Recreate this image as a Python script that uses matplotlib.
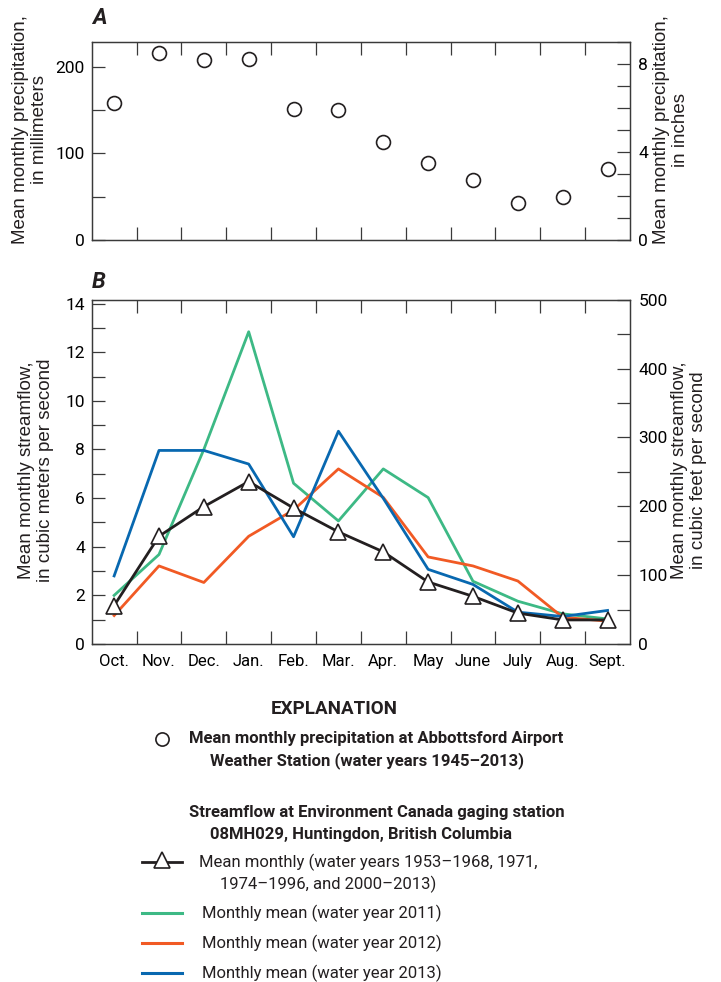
import numpy as np
import matplotlib
matplotlib.use("Agg")
import matplotlib.pyplot as plt
from matplotlib.ticker import MultipleLocator, FixedLocator, NullFormatter

months = ["Oct.", "Nov.", "Dec.", "Jan.", "Feb.", "Mar.", "Apr.", "May", "June", "July", "Aug.", "Sept."]

# panel A - precipitation, mm
precip_mm = [157.5, 215, 208, 208.5, 150.5, 149.5, 112.5, 88.5, 69, 43, 50, 82]

# panel B - streamflow, m3/s
flow_mean = [1.58, 4.43, 5.65, 6.68, 5.59, 4.61, 3.79, 2.55, 1.96, 1.27, 0.99, 0.99]
flow_2011 = [2.0, 3.68, 8.0, 12.84, 6.61, 5.06, 7.2, 6.02, 2.58, 1.76, 1.24, 1.03]
flow_2012 = [1.17, 3.21, 2.53, 4.43, 5.51, 7.2, 6.03, 3.58, 3.21, 2.59, 1.10, 0.94]
flow_2013 = [2.80, 7.96, 7.96, 7.40, 4.41, 8.75, 5.99, 3.07, 2.45, 1.31, 1.13, 1.38]

GREEN = "#3DB985"
ORANGE = "#F15A24"
BLUE = "#0868B0"
BLACK = "#231F20"

COND = ["Roboto", "DejaVu Sans"]
REG = ["Liberation Sans", "DejaVu Sans"]

plt.rcParams["font.family"] = COND
plt.rcParams["text.color"] = BLACK
plt.rcParams["axes.edgecolor"] = "#3a3a3a"
plt.rcParams["axes.linewidth"] = 0.9

W, H = 721, 982
fig = plt.figure(figsize=(W / 100, H / 100), dpi=100)


def fx(px):
    return px / W


def fy(py):
    return 1 - py / H


x = np.arange(len(months)) + 0.5

left, right = 91.7, 630
axA = fig.add_axes([fx(left), fy(240), fx(right - left), (240 - 41.7) / H])
axB = fig.add_axes([fx(left), fy(644), fx(right - left), (644 - 299.7) / H])


def style_x(ax, labels):
    ax.set_xlim(0, 12)
    ax.xaxis.set_major_locator(FixedLocator(range(1, 12)))
    ax.xaxis.set_major_formatter(NullFormatter())
    ax.tick_params(axis="x", which="major", direction="in", length=9.5, width=0.9,
                   top=True, bottom=True, color="#3a3a3a")
    if labels:
        ax.xaxis.set_minor_locator(FixedLocator(x))
        ax.set_xticks(x, months, minor=True)
        ax.tick_params(axis="x", which="minor", length=0, pad=7, labelsize=12)
    else:
        ax.tick_params(axis="x", which="minor", length=0)


def style_y(ax, labelsize=12.5):
    ax.tick_params(axis="y", which="both", direction="in", length=9.5, width=0.9,
                   pad=5, labelsize=labelsize, color="#3a3a3a")


# ---- panel A
axA.scatter(x, precip_mm, s=100, facecolor="white", edgecolor=BLACK, linewidth=1.2, zorder=3)
axA.set_ylim(0, 9 * 25.4)
axA.yaxis.set_major_locator(MultipleLocator(100))
axA.yaxis.set_minor_locator(MultipleLocator(50))
style_x(axA, False)
style_y(axA)
axA2 = axA.twinx()
axA2.set_ylim(0, 9)
axA2.yaxis.set_major_locator(MultipleLocator(4))
axA2.yaxis.set_minor_locator(MultipleLocator(1))
style_y(axA2)

# ---- panel B
axB.plot(x, flow_2011, color=GREEN, lw=2.0, zorder=2)
axB.plot(x, flow_2012, color=ORANGE, lw=2.0, zorder=2)
axB.plot(x, flow_2013, color=BLUE, lw=2.0, zorder=2)
axB.plot(x, flow_mean, color=BLACK, lw=2.0, marker="^", ms=12, mfc="white",
         mec=BLACK, mew=1.2, zorder=3)
axB.set_ylim(0, 500 / 35.3147)
axB.yaxis.set_major_locator(MultipleLocator(2))
axB.yaxis.set_minor_locator(MultipleLocator(1))
style_x(axB, True)
style_y(axB)
axB2 = axB.twinx()
axB2.set_ylim(0, 500)
axB2.yaxis.set_major_locator(MultipleLocator(100))
axB2.yaxis.set_minor_locator(MultipleLocator(50))
style_y(axB2)

for ax in (axA2, axB2):
    ax.tick_params(axis="y", which="both", pad=6)

# panel letters
fig.text(fx(92), fy(18), "A", fontsize=16, fontweight="bold", fontstyle="italic", va="center", ha="left")
fig.text(fx(92), fy(282), "B", fontsize=16, fontweight="bold", fontstyle="italic", va="center", ha="left")

# axis titles
lab = dict(rotation=90, ha="center", va="center", fontsize=13.5, family=REG,
           multialignment="center", linespacing=1.2)
fig.text(fx(30), fy(130), "Mean monthly precipitation,\nin millimeters", **lab)
fig.text(fx(671), fy(130), "Mean monthly precipitation,\nin inches", **lab)
fig.text(fx(36), fy(470), "Mean monthly streamflow,\nin cubic meters per second", **lab)
fig.text(fx(689), fy(470), "Mean monthly streamflow,\nin cubic feet per second", **lab)

# ---- explanation
ov = fig.add_axes([0, 0, 1, 1])
ov.set_xlim(0, W)
ov.set_ylim(H, 0)
ov.axis("off")

ov.text(334, 709, "EXPLANATION", fontsize=13.5, fontweight="bold", ha="center", va="center")
ov.plot([162], [739], marker="o", ms=9.5, mfc="white", mec=BLACK, mew=1.2)
bold = dict(fontsize=12, fontweight="bold", ha="left", va="center")
ov.text(189, 739, "Mean monthly precipitation at Abbottsford Airport", **bold)
ov.text(210.5, 761, "Weather Station (water years 1945\u20132013)", **bold)
ov.text(189, 812, "Streamflow at Environment Canada gaging station", **bold)
ov.text(210.5, 834, "08MH029, Huntingdon, British Columbia", **bold)

reg = dict(fontsize=12, ha="left", va="center")
ov.plot([142, 182], [861.5, 861.5], color=BLACK, lw=2.0)
ov.plot([162], [860], marker="^", ms=12, mfc="white", mec=BLACK, mew=1.2)
ov.text(199, 862, "Mean monthly (water years 1953\u20131968, 1971,", **reg)
ov.text(220.5, 884, "1974\u20131996, and 2000\u20132013)", **reg)
for yy, col, yr in [(913, GREEN, 2011), (943, ORANGE, 2012), (973, BLUE, 2013)]:
    ov.plot([142, 182], [yy, yy], color=col, lw=2.2)
    ov.text(202, yy, "Monthly mean (water year %d)" % yr, **reg)

fig.savefig("out.png", dpi=100)
